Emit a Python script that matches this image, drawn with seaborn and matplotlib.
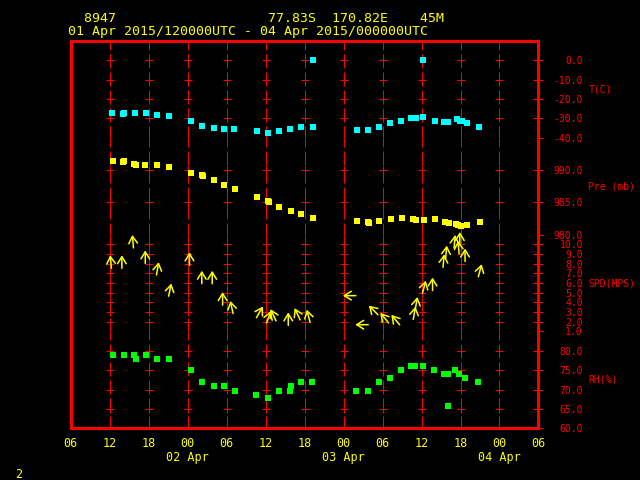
import numpy as np
import pandas as pd
import seaborn as sns
import matplotlib
matplotlib.use('Agg')
import matplotlib.pyplot as plt
from matplotlib.transforms import offset_copy

# hours since 01 Apr 2015 00UTC
temp_hours = [12.4, 14.0, 14.2, 15.9, 17.6, 19.3, 21.1, 24.5, 26.3, 28.0, 29.6, 31.2,
              34.7, 36.4, 38.1, 39.8, 41.5, 43.3, 43.3, 50.0, 51.8, 53.5, 55.2, 56.9,
              58.4, 59.1, 60.3, 60.3, 62.0, 63.4, 64.1, 65.4, 65.9, 66.2, 67.0, 68.9]
temp_c = [-27.4, -27.8, -27.3, -27.4, -27.4, -28.1, -28.9, -31.1, -33.7, -34.7, -35.3, -35.3,
          -36.3, -37.4, -36.3, -35.3, -34.2, 0.0, -34.2, -35.8, -35.8, -34.2, -32.6, -31.1,
          -30.0, -30.0, 0.0, -29.5, -31.1, -31.6, -31.6, -30.5, -31.1, -31.1, -32.6, -34.2]

pres_hours = [12.5, 14.1, 14.3, 15.8, 16.0, 17.5, 19.3, 21.1, 24.6, 26.3, 26.4, 28.1,
              29.6, 31.3, 34.7, 36.4, 36.6, 38.1, 39.9, 41.5, 43.3, 50.0, 51.7, 51.9,
              53.5, 55.3, 57.0, 58.7, 59.1, 60.4, 62.1, 63.6, 64.2, 65.3, 65.6, 66.1,
              67.0, 69.0]
pres_mb = [991.35, 991.25, 991.4, 990.9, 990.73, 990.73, 990.73, 990.42, 989.48, 989.22,
           989.06, 988.39, 987.66, 987.14, 985.89, 985.21, 985.0, 984.32, 983.59, 983.13,
           982.6, 982.14, 982.03, 981.88, 982.19, 982.45, 982.6, 982.45, 982.29, 982.34,
           982.45, 982.03, 981.88, 981.67, 981.5, 981.41, 981.56, 982.03]

rh_hours = [12.5, 14.2, 15.8, 16.0, 17.6, 19.3, 21.2, 24.5, 26.3, 28.1, 29.6, 31.3,
            34.6, 36.4, 38.0, 39.7, 39.9, 41.4, 43.2, 49.9, 51.7, 53.4, 55.1, 56.8,
            58.4, 59.0, 60.2, 61.9, 63.4, 64.0, 64.0, 65.1, 65.8, 66.7, 68.7]
rh_pct = [78.9, 78.9, 78.9, 77.8, 78.9, 77.8, 77.8, 75.0, 71.9, 70.9, 70.9, 69.7,
          68.7, 67.9, 69.7, 69.7, 70.9, 71.9, 71.9, 69.7, 69.7, 71.9, 72.9, 75.0,
          76.1, 76.1, 76.1, 75.0, 74.0, 74.0, 65.8, 75.0, 74.0, 72.9, 71.9]

wind_hours = [12.2, 13.9, 15.6, 17.5, 19.4, 21.3, 24.3, 26.2, 27.8, 29.4, 30.8, 35.1,
              36.5, 37.2, 39.5, 40.9, 42.6, 48.9, 50.8, 52.6, 54.3, 56.0, 59.2, 58.9,
              60.4, 61.7, 63.4, 63.8, 65.1, 65.9, 65.7, 66.7, 69.0]
wind_spd = [8.2, 8.2, 10.3, 8.7, 7.5, 5.3, 8.5, 6.6, 6.6, 4.4, 3.5, 3.0,
            2.5, 2.7, 2.3, 2.8, 2.6, 4.7, 1.7, 3.2, 2.4, 2.2, 3.9, 2.9,
            5.6, 5.9, 8.3, 9.2, 10.3, 10.6, 9.7, 8.9, 7.3]
# direction the wind blows from (deg)
wind_dir = [175, 180, 175, 180, 190, 192, 180, 180, 180, 180, 168, 210,
            200, 155, 180, 155, 165, 90, 90, 135, 140, 140, 190, 190,
            195, 180, 185, 185, 185, 180, 175, 180, 195]

time_ticks = list(range(6, 79, 6))
time_labels = ['%02d' % (h % 24) for h in time_ticks]
day_ticks = [24, 48, 72]
day_labels = ['02 Apr', '03 Apr', '04 Apr']

title_1 = '  8947                   77.83S  170.82E    45M'
title_2 = '01 Apr 2015/120000UTC - 04 Apr 2015/000000UTC'

panels = [
    ('T(C)', (-40, 10), [0, -10, -20, -30, -40]),
    ('Pre (mb)', (980, 995), [990, 985, 980]),
    ('SPD(MPS)', (1, 11), [10, 9, 8, 7, 6, 5, 4, 3, 2, 1]),
    ('RH(%)', (60, 85), [80, 75, 70, 65, 60]),
]

sns.set_theme(style='dark', rc={'axes.facecolor': 'black', 'figure.facecolor': 'black'})
plt.rcParams['font.family'] = ['DejaVu Sans Mono']

RED = '#ff0000'
YEL = '#ffff00'
PX = 0.72  # one pixel in points

fig, axes = plt.subplots(4, 1, figsize=(6.4, 4.8), dpi=100, sharex=True,
                         gridspec_kw={'hspace': 0})
fig.subplots_adjust(left=0.1102, right=0.8414, top=0.9146, bottom=0.1077)

grid_cols = [h for h in time_ticks if 6 < h < 78]

for i, (ax, (name, lim, ticks)) in enumerate(zip(axes, panels)):
    ax.set_facecolor('black')
    ax.set_xlim(6, 78)
    ax.set_ylim(*lim)

    # dashed vertical grid and crosses
    ax.vlines(grid_cols, lim[0], lim[1], colors=RED, lw=PX,
              linestyles=[(2, (14, 4))], zorder=1)
    inner = [t for t in ticks if lim[0] < t < lim[1]]
    gx, gy = np.meshgrid(grid_cols, inner)
    ax.plot(gx.ravel(), gy.ravel(), ls='none', marker='+', ms=5.5, mew=PX,
            color=RED, zorder=1)

    ax.yaxis.tick_right()
    ax.set_yticks(ticks)
    ax.set_yticklabels(['%.1f' % t for t in ticks])
    ax.tick_params(axis='y', direction='inout', length=7.2, width=PX,
                   color=RED, labelcolor=RED, labelsize=7, pad=28.4,
                   left=False, right=True)
    plt.setp(ax.get_yticklabels(), ha='right')

    ax.set_xticks(time_ticks)
    ax.tick_params(axis='x', length=0, labelbottom=False)
    ax.grid(False)

    for sp in ax.spines.values():
        sp.set_color(RED)
    ax.spines['left'].set_linewidth(3 * PX)
    ax.spines['right'].set_linewidth(3 * PX)
    ax.spines['top'].set_linewidth(3 * PX)
    ax.spines['bottom'].set_linewidth(PX)
    if i > 0:
        ax.spines['top'].set_visible(False)
    if i == 3:
        ax.spines['bottom'].set_linewidth(3 * PX)

    ax.text(1.1066, 0.5, name, transform=ax.transAxes, color=RED, fontsize=7,
            ha='left', va='center')

sns.scatterplot(x=temp_hours, y=temp_c, ax=axes[0], color='#00ffff', marker='s',
                s=14, linewidth=0, legend=False, zorder=3)
sns.scatterplot(x=pres_hours, y=pres_mb, ax=axes[1], color=YEL, marker='s',
                s=14, linewidth=0, legend=False, zorder=3)
sns.scatterplot(x=rh_hours, y=rh_pct, ax=axes[3], color='#00ff00', marker='s',
                s=14, linewidth=0, legend=False, zorder=3)

# wind arrows, centred on (time, speed), pointing where the wind goes
wind = pd.DataFrame({'h': wind_hours, 's': wind_spd, 'd': wind_dir})
half = 6.5
for _, r in wind.iterrows():
    to = np.deg2rad(r['d'] - 180)
    dx, dy = np.sin(to) * half, np.cos(to) * half
    head = offset_copy(axes[2].transData, fig=fig, x=dx, y=dy, units='dots')
    tail = offset_copy(axes[2].transData, fig=fig, x=-dx, y=-dy, units='dots')
    axes[2].annotate('', xy=(r['h'], r['s']), xycoords=head,
                     xytext=(r['h'], r['s']), textcoords=tail,
                     arrowprops=dict(arrowstyle='->,head_length=0.42,head_width=0.26',
                                     color=YEL, lw=1.1, shrinkA=0, shrinkB=0),
                     zorder=3)

bottom = axes[3]
bottom.set_xticks(time_ticks)
bottom.set_xticklabels(time_labels)
bottom.tick_params(axis='x', length=0, labelbottom=True, labelcolor=YEL,
                   labelsize=8.5, pad=6)
sec = bottom.secondary_xaxis('bottom')
sec.set_xticks(day_ticks)
sec.set_xticklabels(day_labels)
sec.tick_params(axis='x', length=0, labelcolor=YEL, labelsize=8.5, pad=16)
sec.spines['bottom'].set_visible(False)

fig.text(0.107, 1 - 18.7 / 480, title_1, color=YEL, fontsize=9.5, ha='left', va='center')
fig.text(0.107, 1 - 31.0 / 480, title_2, color=YEL, fontsize=9.5, ha='left', va='center')
fig.text(19 / 640, 1 - 474 / 480, '2', color=YEL, fontsize=8.5, ha='center', va='center')

fig.savefig('out.png', dpi=100, facecolor='black')
